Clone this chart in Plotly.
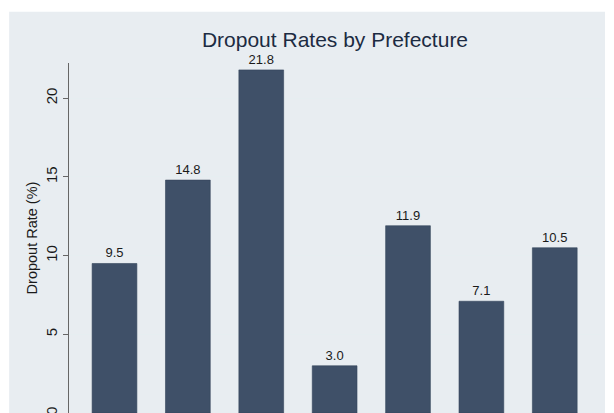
import plotly.graph_objects as go

categories = ["Prefecture A", "Prefecture B", "Prefecture C", "Prefecture D",
              "Prefecture E", "Prefecture F", "Prefecture G"]
dropout_rates = [9.5, 14.8, 21.8, 3.0, 11.9, 7.1, 10.5]
y_ticks = [0, 5, 10, 15, 20]

# the page body has an 8px margin, so figure coords = screen coords - 8
W, H = 614, 413
L, R, T, B = 60.5, 21, 55, 8
pw, ph = W - L - R, H - T - B

fig = go.Figure()
fig.add_trace(go.Bar(
    x=list(range(len(categories))),
    y=dropout_rates,
    width=0.61,
    marker=dict(color="#3F5068", line=dict(color="#34445A", width=0.6)),
    text=[f"{v:.1f}" for v in dropout_rates],
    textposition="outside",
    textfont=dict(family="Arial, Liberation Sans, sans-serif", size=13, color="#1A1A1A"),
    cliponaxis=False,
    hoverinfo="skip",
))

def px_to_paper_x(px):
    return (px - L) / pw

def px_to_paper_y(py):
    return (H - B - py) / ph

fig.add_shape(type="rect", xref="paper", yref="paper",
              x0=px_to_paper_x(0.6), x1=px_to_paper_x(597),
              y0=px_to_paper_y(H + 20), y1=px_to_paper_y(3.7),
              fillcolor="#E8EDF1", line=dict(width=0), layer="below")

fig.update_layout(
    width=W, height=H,
    margin=dict(l=L, r=R, t=T, b=B, autoexpand=False),
    paper_bgcolor="white",
    plot_bgcolor="white",
    showlegend=False,
    title=dict(text="Dropout Rates by Prefecture", x=0.5, xref="paper",
               y=1 - 32 / H, yref="container", yanchor="middle", xanchor="center",
               font=dict(family="Arial, Liberation Sans, sans-serif", size=21, color="#1C2B42")),
    xaxis=dict(range=[-0.62, 6.63], showticklabels=False, showgrid=False,
               zeroline=False, showline=False, ticks=""),
    yaxis=dict(range=[0, 22.24], tickvals=y_ticks, ticktext=[str(t) for t in y_ticks],
               tickangle=-90, ticks="outside", ticklen=5, tickcolor="#666666",
               showline=True, linecolor="#666666", linewidth=1,
               showgrid=True, gridcolor="#E6EEF1", gridwidth=1, zeroline=False,
               tickfont=dict(family="Arial, Liberation Sans, sans-serif", size=15, color="#1A1A1A"),
               title=dict(text="Dropout Rate (%)", standoff=1,
                          font=dict(family="Arial, Liberation Sans, sans-serif", size=14.5, color="#1A1A1A")),
               automargin=False),
)

fig.write_html("out.html")
